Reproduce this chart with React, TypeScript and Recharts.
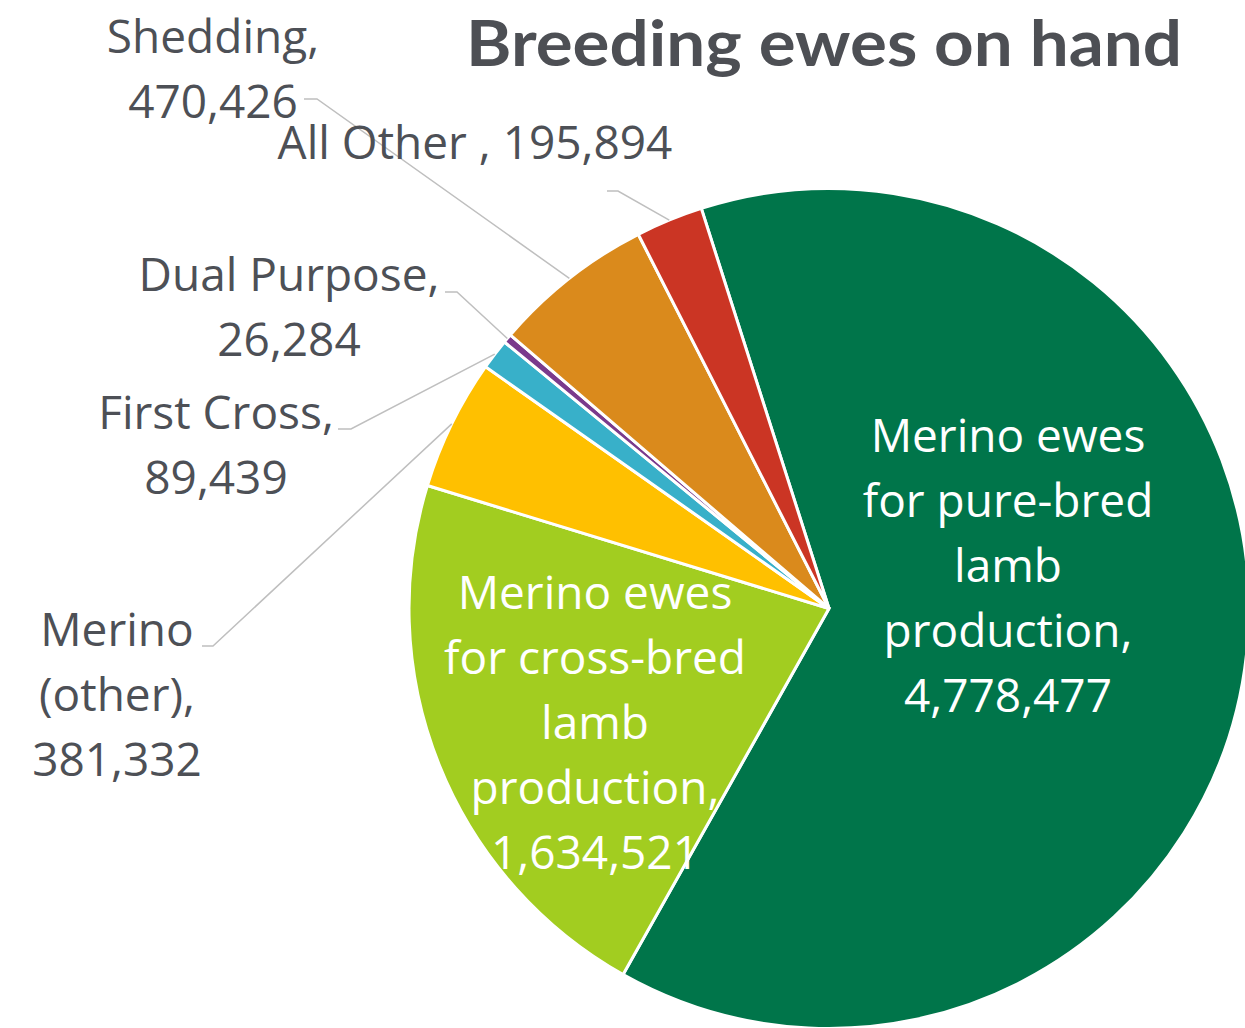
import React from 'react';
import { PieChart, Pie, Cell, Customized } from 'recharts';

// breeding ewes on hand, by type
const names = [
  'Merino ewes for pure-bred lamb production',
  'Merino ewes for cross-bred lamb production',
  'Merino (other)',
  'First Cross',
  'Dual Purpose',
  'Shedding',
  'All Other',
];
const values = [4778477, 1634521, 381332, 89439, 26284, 470426, 195894];

// how each label wraps (value goes on the last line)
const labelLines = [
  ['Merino ewes', 'for pure-bred', 'lamb', 'production,'],
  ['Merino ewes', 'for cross-bred', 'lamb', 'production,'],
  ['Merino', '(other),'],
  ['First Cross,'],
  ['Dual Purpose,'],
  ['Shedding,'],
  ['All Other , '],
];

const colors = ['#00754A', '#A2CD20', '#FFC000', '#38B0C9', '#7A3A8C', '#DA8A1C', '#CB3524'];

const TEXT = '#4D5056';
const LINE = '#BFBFBF';
const FONT = '"Open Sans", sans-serif';
const FS = 46;
const LH = 65;

const data = names.map((name, i) => ({ name, value: values[i] }));

// label block placement: x = centre, y = first baseline, leader = [start x, elbow x, y]
const layout: Record<string, { x: number; y: number; inside?: boolean; inline?: boolean; leader?: number[] }> = {
  'Merino ewes for pure-bred lamb production': { x: 1008, y: 452, inside: true },
  'Merino ewes for cross-bred lamb production': { x: 595, y: 609, inside: true },
  'Merino (other)': { x: 117, y: 646, leader: [202, 213, 646] },
  'First Cross': { x: 216, y: 429, leader: [338, 351, 429] },
  'Dual Purpose': { x: 289, y: 291, leader: [445, 457, 292] },
  'Shedding': { x: 213, y: 53, leader: [304, 317, 99] },
  'All Other': { x: 475, y: 159, inline: true, leader: [607, 618, 191] },
};

const RADIAN = Math.PI / 180;
const fmt = (v: number) => v.toLocaleString('en-US');

const renderLabel = (props: any) => {
  const { cx, cy, midAngle, outerRadius, index } = props;
  const name = names[index];
  const pos = layout[name];
  const lines = pos.inline
    ? [labelLines[index][0] + fmt(values[index])]
    : [...labelLines[index], fmt(values[index])];
  let leader = null;
  if (pos.leader) {
    const ex = cx + outerRadius * Math.cos(-midAngle * RADIAN);
    const ey = cy + outerRadius * Math.sin(-midAngle * RADIAN);
    const [x0, x1, ly] = pos.leader;
    leader = (
      <polyline points={`${x0},${ly} ${x1},${ly} ${ex},${ey}`} fill="none" stroke={LINE} strokeWidth={1.5} />
    );
  }
  return (
    <g key={`lbl-${index}`}>
      {leader}
      <text x={pos.x} y={pos.y} textAnchor="middle" fontFamily={FONT} fontSize={FS} fill={pos.inside ? '#FFFFFF' : TEXT}>
        {lines.map((l, i) => (
          <tspan key={i} x={pos.x} y={pos.y + i * LH}>{l}</tspan>
        ))}
      </text>
    </g>
  );
};

const Title = () => (
  <text x={824} y={66} textAnchor="middle" fontFamily="Lato, sans-serif" fontWeight={700} fontSize={64}
    fill="#4D4F54" textLength={716} lengthAdjust="spacingAndGlyphs">
    Breeding ewes on hand
  </text>
);

export default function App() {
  return (
    <div style={{ position: 'absolute', left: 0, top: 0, background: '#fff' }}>
      <PieChart width={1245} height={1028}>
        <Pie
          data={data}
          dataKey="value"
          nameKey="name"
          cx={824}
          cy={603.5}
          outerRadius={420}
          startAngle={107.7}
          endAngle={-252.3}
          stroke="#FFFFFF"
          strokeWidth={3}
          labelLine={false}
          label={renderLabel}
          isAnimationActive={false}
        >
          {data.map((d, i) => (
            <Cell key={d.name} fill={colors[i]} />
          ))}
        </Pie>
        <Customized component={<Title />} />
      </PieChart>
    </div>
  );
}
